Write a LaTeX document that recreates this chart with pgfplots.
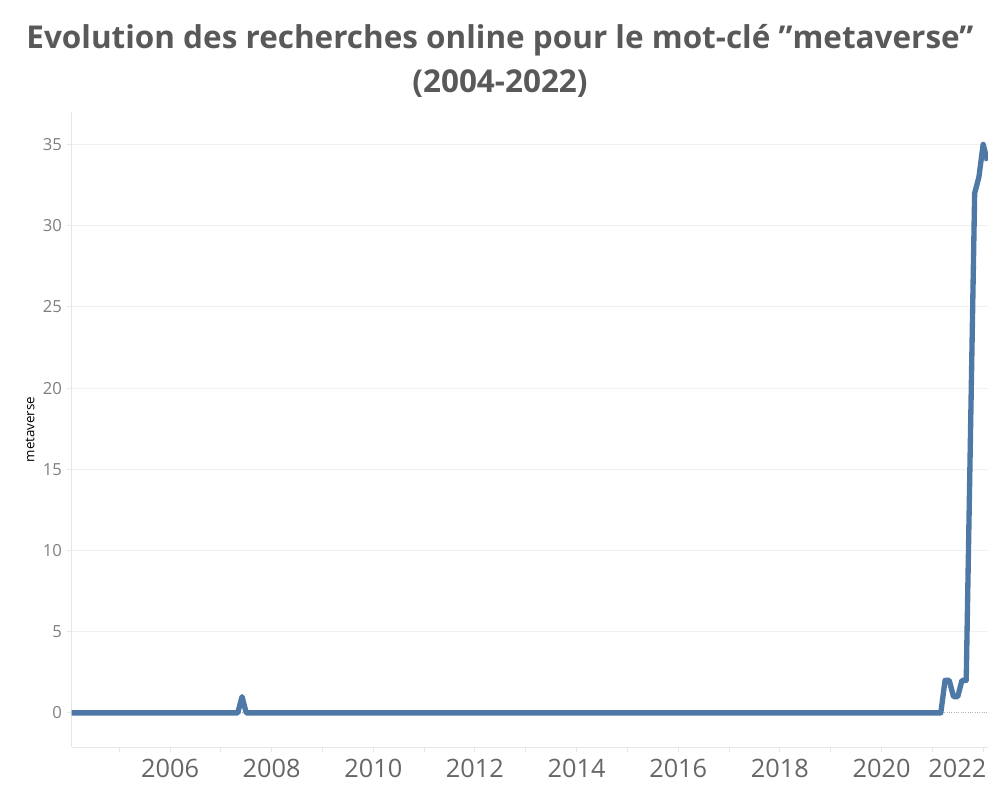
\documentclass[border=0pt]{standalone}
\usepackage{pgfplots}
\pgfplotsset{compat=1.18}
\usepackage{pgfplotstable}
\usepackage{fontspec}
\setmainfont{Open Sans}

\definecolor{linecolor}{HTML}{4E79A7}
\definecolor{titlecolor}{HTML}{595959}
\definecolor{xlabcolor}{HTML}{666666}
\definecolor{ylabcolor}{HTML}{7F7F7F}
\definecolor{gridcolor}{HTML}{F0F0F0}
\definecolor{axiscolor}{HTML}{E6E6E6}

% monthly index, only the months where the value moves
\pgfplotstableread{
t        v
2004.000 0
2007.333 0
2007.417 1
2007.500 0
2021.167 0
2021.250 2
2021.333 2
2021.417 1
2021.500 1
2021.583 2
2021.667 2
2021.750 17
2021.833 32
2021.917 33
2022.000 35
2022.083 34
}\metaverse

\begin{document}
\begin{tikzpicture}
\begin{axis}[
    scale only axis,
    width=687.2pt, height=476.25pt,
    xmin=2004.065, xmax=2022.095,
    ymin=-2.1, ymax=37,
    axis x line*=bottom, axis y line*=left,
    axis line style={draw=axiscolor, line width=0.75pt},
    tick align=outside,
    major tick length=3.75pt, minor tick length=3.75pt,
    tick style={draw=axiscolor, line width=0.75pt},
    xtick={2006,2008,...,2020},
    minor xtick={2005,2007,...,2021},
    extra x ticks={2022},
    extra x tick labels={2022},
    extra x tick style={xticklabel style={xshift=-19.3pt}},
    xticklabel style={font=\fontsize{19}{19}\selectfont, text=xlabcolor, yshift=-1.5pt},
    x tick label style={/pgf/number format/1000 sep={}},
    ytick={5,10,...,35},
    extra y ticks={0},
    extra y tick style={grid style={densely dotted, draw=black!30, line width=0.75pt}},
    yticklabel style={font=\fontsize{12.5}{12.5}\selectfont, text=ylabcolor},
    /pgf/number format/assume math mode=true,
    ymajorgrids,
    grid style={draw=gridcolor, line width=0.75pt},
    ylabel={metaverse},
    ylabel style={font=\fontsize{9.5}{9.5}\selectfont, text=black!80},
    every axis y label/.style={at={(axis description cs:0,0.5)}, xshift=-31.3pt,
        rotate=90, anchor=center},
    clip=true,
]
\addplot[linecolor, line width=4pt, line join=round] table[x=t, y=v] {\metaverse};
\end{axis}
\node[anchor=base, font=\fontsize{23.6}{23.6}\selectfont\bfseries, text=titlecolor]
    at (321.2pt,524pt) {Evolution des recherches online pour le mot-clé ”metaverse”};
\node[anchor=base, font=\fontsize{23.6}{23.6}\selectfont\bfseries, text=titlecolor]
    at (321.2pt,490.5pt) {(2004-2022)};
\path (-53.775pt,-39.75pt) rectangle (696.225pt,560.25pt);
\end{tikzpicture}
\end{document}
